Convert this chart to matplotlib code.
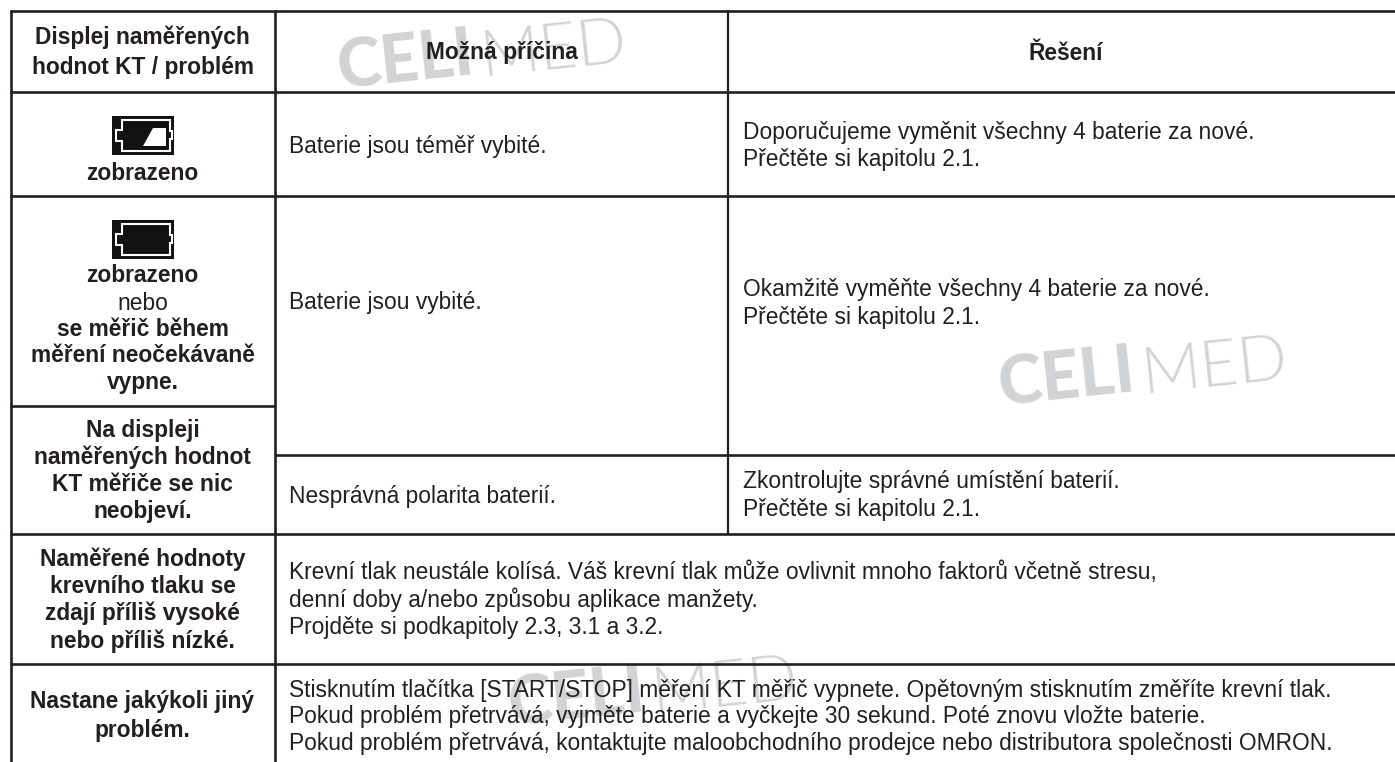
import matplotlib
matplotlib.use('Agg')
import matplotlib.pyplot as plt
from matplotlib.patches import Rectangle, Polygon

plt.rcParams['font.family'] = ['Liberation Sans', 'DejaVu Sans']

INK = '#231f20'
WATERMARK = '#d1d3d4'

# Table content
header = ['Displej naměřených\nhodnot KT / problém', 'Možná příčina', 'Řešení']
row1_status = 'zobrazeno'
row2_status = ['zobrazeno', 'nebo', 'se měřič během', 'měření neočekávaně', 'vypne.']
row3_problem = 'Na displeji\nnaměřených hodnot\nKT měřiče se nic\nneobjeví.'
row4_problem = 'Naměřené hodnoty\nkrevního tlaku se\nzdají příliš vysoké\nnebo příliš nízké.'
row5_problem = 'Nastane jakýkoli jiný\nproblém.'
causes = ['Baterie jsou téměř vybité.', 'Baterie jsou vybité.', 'Nesprávná polarita baterií.']
fixes = ['Doporučujeme vyměnit všechny 4 baterie za nové.\nPřečtěte si kapitolu 2.1.',
         'Okamžitě vyměňte všechny 4 baterie za nové.\nPřečtěte si kapitolu 2.1.',
         'Zkontrolujte správné umístění baterií.\nPřečtěte si kapitolu 2.1.']
row4_text = ('Krevní tlak neustále kolísá. Váš krevní tlak může ovlivnit mnoho faktorů včetně stresu,\n'
             'denní doby a/nebo způsobu aplikace manžety.\n'
             'Projděte si podkapitoly 2.3, 3.1 a 3.2.')
row5_text = ('Stisknutím tlačítka [START/STOP] měření KT měřič vypnete. Opětovným stisknutím změříte krevní tlak.\n'
             'Pokud problém přetrvává, vyjměte baterie a vyčkejte 30 sekund. Poté znovu vložte baterie.\n'
             'Pokud problém přetrvává, kontaktujte maloobchodního prodejce nebo distributora společnosti OMRON.')

fig = plt.figure(figsize=(13.95, 7.62), dpi=100)
ax = fig.add_axes([0, 0, 1, 1])
ax.set_xlim(0, 1395)
ax.set_ylim(762, 0)
ax.axis('off')

FS = 16.4
LS = 1.22
X1, X2, X3 = 10.5, 275, 728
XC = 142.5


def wm(x, y):
    ax.text(x, y, 'CELI', fontsize=48, fontweight='black', family='Lato', color=WATERMARK, rotation=6,
            rotation_mode='anchor', ha='left', va='baseline', zorder=1)
    ax.text(x + 142, y - 13, 'MED', fontsize=47, fontweight=300, family='Lato', color=WATERMARK, rotation=6,
            rotation_mode='anchor', ha='left', va='baseline', zorder=1)


wm(340, 89)
wm(1001, 406)
wm(511, 726)


def line(x0, y0, x1, y1, lw=1.9):
    ax.plot([x0, x1], [y0, y1], color=INK, lw=lw, solid_capstyle='butt', zorder=3)


for y in [11, 92, 196, 664]:
    line(9.5, y, 1395, y)
line(9.5, 406, X2, 406)
line(X2, 455, 1395, 455)
line(9.5, 534, 1395, 534)
line(X1, 10, X1, 762)
line(X2, 10, X2, 762)
line(X3, 10, X3, 534, lw=1.6)


def ctext(y, s, bold=True, ls=LS):
    ax.text(XC, y, s, ha='center', va='center', fontsize=FS, fontweight='bold' if bold else 'normal',
            color=INK, linespacing=ls, zorder=4)


def ltext(x, y, s, ls=LS):
    ax.text(x, y, s, ha='left', va='center', fontsize=FS, color=INK, linespacing=ls, zorder=4)


def battery(x, y, half):
    ax.add_patch(Rectangle((x, y), 62, 39, fc='#111111', ec='none', zorder=4))
    outline = [(x + 10, y + 4), (x + 58, y + 4), (x + 58, y + 15), (x + 60, y + 15), (x + 60, y + 23),
               (x + 58, y + 23), (x + 58, y + 35), (x + 10, y + 35), (x + 10, y + 25), (x + 4, y + 25),
               (x + 4, y + 14), (x + 10, y + 14)]
    ax.add_patch(Polygon(outline, closed=True, fc='none', ec='white', lw=1.5, zorder=5))
    if half:
        ax.add_patch(Polygon([(x + 31, y + 30), (x + 41, y + 12), (x + 54, y + 12), (x + 54, y + 30)],
                             closed=True, fc='white', ec='none', zorder=5))


ctext(52.5, header[0], ls=1.4)
ax.text((X2 + X3) / 2, 53, header[1], ha='center', va='center', fontsize=FS, fontweight='bold', color=INK, zorder=4)
ax.text(1066, 53, header[2], ha='center', va='center', fontsize=FS, fontweight='bold', color=INK, zorder=4)

battery(112, 116, True)
ctext(173, row1_status)
battery(112, 220, False)
row2_y = [276, 303, 329, 356, 382]
for y, s in zip(row2_y, row2_status):
    ctext(y, s, bold=s != 'nebo')
ctext(471, row3_problem)
ctext(600, row4_problem)
ctext(716, row5_problem, ls=1.32)

ltext(289, 146, causes[0])
ltext(289, 303, causes[1])
ltext(289, 496, causes[2])
ltext(743, 146, fixes[0], ls=1.27)
ltext(743, 303.5, fixes[1], ls=1.27)
ltext(743, 495.5, fixes[2], ls=1.27)
ltext(289, 600, row4_text)
ltext(289, 717, row5_text, ls=1.18)

fig.savefig('out.png', dpi=100)
